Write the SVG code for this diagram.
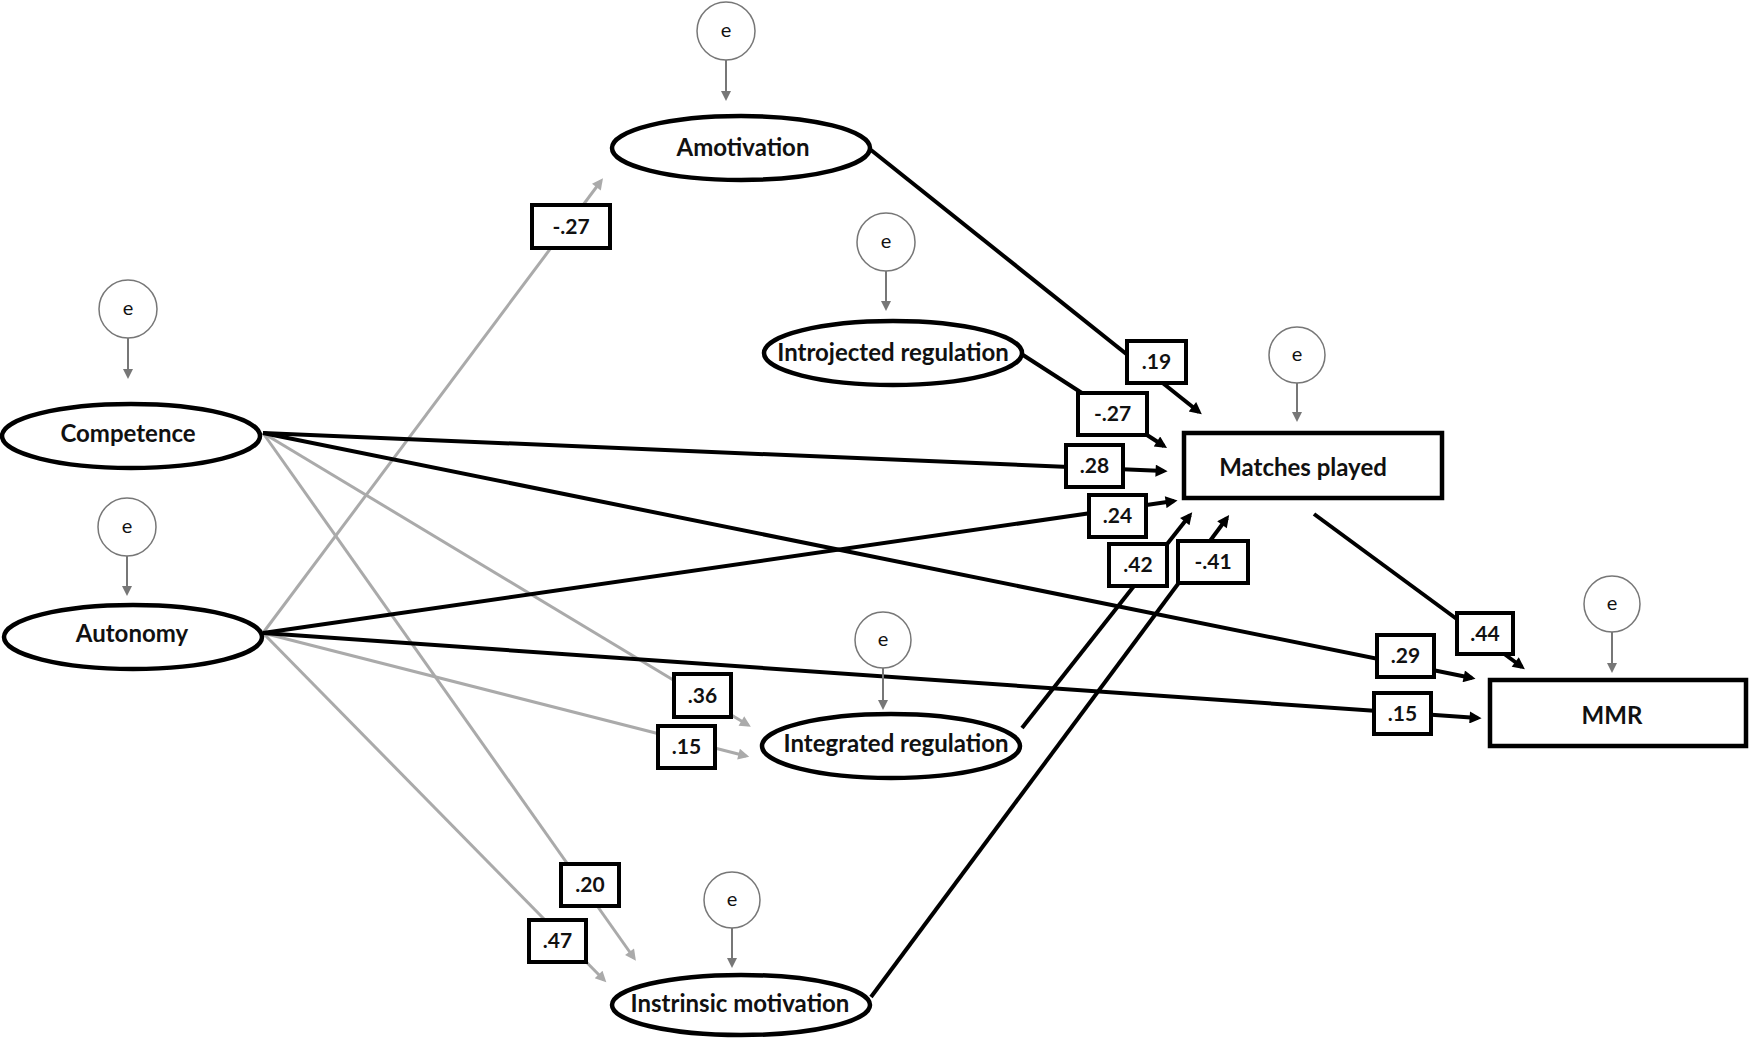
<svg xmlns="http://www.w3.org/2000/svg" width="1750" height="1040" viewBox="0 0 1750 1040">
<style>
  .bg{fill:#ffffff}
  .node{fill:#ffffff;stroke:#000000;stroke-width:4.5}
  .nlabel{font-family:"Lato","Liberation Sans",sans-serif;font-weight:bold;font-size:24px;fill:#111111;text-anchor:middle}
  .err{fill:#ffffff;stroke:#777777;stroke-width:1.5}
  .etext{font-family:"Lato","Liberation Sans",sans-serif;font-size:20px;fill:#111111;text-anchor:middle}
  .earrow{stroke:#777777;stroke-width:2;fill:none}
  .black{stroke:#000000;stroke-width:4;fill:none}
  .gray{stroke:#aaaaaa;stroke-width:3;fill:none}
  .lbox{fill:#ffffff;stroke:#000000;stroke-width:4}
  .ltext{font-family:"Lato","Liberation Sans",sans-serif;font-weight:bold;font-size:21px;fill:#111111;text-anchor:middle}
</style>
<defs>
  <marker id="ab" viewBox="0 0 10 10" refX="7" refY="5" markerWidth="15" markerHeight="12" markerUnits="userSpaceOnUse" orient="auto">
    <path d="M0,0 L10,5 L0,10 z" fill="#000000"/>
  </marker>
  <marker id="ag" viewBox="0 0 10 10" refX="7" refY="5" markerWidth="14" markerHeight="11" markerUnits="userSpaceOnUse" orient="auto">
    <path d="M0,0 L10,5 L0,10 z" fill="#aaaaaa"/>
  </marker>
  <marker id="ae" viewBox="0 0 10 10" refX="8" refY="5" markerWidth="11" markerHeight="10" markerUnits="userSpaceOnUse" orient="auto">
    <path d="M0,0 L10,5 L0,10 z" fill="#777777"/>
  </marker>
</defs>
<rect class="bg" x="0" y="0" width="1750" height="1040"/>

<g id="connectors">
  <line class="gray" x1="263" y1="633" x2="601" y2="181" marker-end="url(#ag)"/>
  <line class="gray" x1="263" y1="433" x2="748" y2="725" marker-end="url(#ag)"/>
  <line class="gray" x1="263" y1="633" x2="746" y2="756" marker-end="url(#ag)"/>
  <line class="gray" x1="263" y1="433" x2="634" y2="958" marker-end="url(#ag)"/>
  <line class="gray" x1="263" y1="633" x2="604" y2="980" marker-end="url(#ag)"/>
  <line class="black" x1="871" y1="150" x2="1199" y2="412" marker-end="url(#ab)"/>
  <line class="black" x1="1023" y1="355" x2="1164" y2="446" marker-end="url(#ab)"/>
  <line class="black" x1="263" y1="433" x2="1164" y2="471" marker-end="url(#ab)"/>
  <line class="black" x1="263" y1="633" x2="1174" y2="501" marker-end="url(#ab)"/>
  <line class="black" x1="1022" y1="728" x2="1190" y2="515" marker-end="url(#ab)"/>
  <line class="black" x1="871" y1="997" x2="1227" y2="518" marker-end="url(#ab)"/>
  <line class="black" x1="1314" y1="514" x2="1522" y2="667" marker-end="url(#ab)"/>
  <line class="black" x1="263" y1="433" x2="1472" y2="678" marker-end="url(#ab)"/>
  <line class="black" x1="263" y1="633" x2="1478" y2="718" marker-end="url(#ab)"/>
  <line class="earrow" x1="128" y1="338" x2="128" y2="377" marker-end="url(#ae)"/>
  <line class="earrow" x1="127" y1="556" x2="127" y2="594" marker-end="url(#ae)"/>
  <line class="earrow" x1="726" y1="60" x2="726" y2="99" marker-end="url(#ae)"/>
  <line class="earrow" x1="886" y1="271" x2="886" y2="309" marker-end="url(#ae)"/>
  <line class="earrow" x1="1297" y1="383" x2="1297" y2="420" marker-end="url(#ae)"/>
  <line class="earrow" x1="883" y1="668" x2="883" y2="708" marker-end="url(#ae)"/>
  <line class="earrow" x1="732" y1="928" x2="732" y2="966" marker-end="url(#ae)"/>
  <line class="earrow" x1="1612" y1="632" x2="1612" y2="671" marker-end="url(#ae)"/>
</g>

<g id="labels">
  <g id="l-aut-amot"><rect class="lbox" x="532" y="205" width="78" height="43"/><text class="ltext" x="571" y="234">-.27</text></g>
  <g id="l-amot-mp"><rect class="lbox" x="1127" y="341" width="59" height="42"/><text class="ltext" x="1156.5" y="369">.19</text></g>
  <g id="l-intro-mp"><rect class="lbox" x="1078" y="393" width="69" height="42"/><text class="ltext" x="1112.5" y="421">-.27</text></g>
  <g id="l-comp-mp"><rect class="lbox" x="1066" y="445" width="57" height="42"/><text class="ltext" x="1094.5" y="473">.28</text></g>
  <g id="l-aut-mp"><rect class="lbox" x="1089" y="495" width="57" height="42"/><text class="ltext" x="1117.5" y="523">.24</text></g>
  <g id="l-integ-mp"><rect class="lbox" x="1109" y="544" width="58" height="42"/><text class="ltext" x="1138" y="572">.42</text></g>
  <g id="l-intr-mp"><rect class="lbox" x="1178" y="541" width="70" height="42"/><text class="ltext" x="1213" y="569">-.41</text></g>
  <g id="l-mp-mmr"><rect class="lbox" x="1457" y="613" width="56" height="41"/><text class="ltext" x="1485" y="641">.44</text></g>
  <g id="l-comp-mmr"><rect class="lbox" x="1377" y="635" width="57" height="42"/><text class="ltext" x="1405.5" y="663">.29</text></g>
  <g id="l-aut-mmr"><rect class="lbox" x="1374" y="693" width="57" height="41"/><text class="ltext" x="1402.5" y="721">.15</text></g>
  <g id="l-comp-integ"><rect class="lbox" x="674" y="674" width="57" height="43"/><text class="ltext" x="702.5" y="703">.36</text></g>
  <g id="l-aut-integ"><rect class="lbox" x="658" y="726" width="57" height="42"/><text class="ltext" x="686.5" y="754">.15</text></g>
  <g id="l-comp-intr"><rect class="lbox" x="561" y="864" width="58" height="42"/><text class="ltext" x="590" y="892">.20</text></g>
  <g id="l-aut-intr"><rect class="lbox" x="529" y="920" width="57" height="42"/><text class="ltext" x="557.5" y="948">.47</text></g>
</g>

<g id="competence"><ellipse class="node" cx="131" cy="436" rx="129" ry="32"/><text class="nlabel" x="128" y="442">Competence</text></g>
<g id="autonomy"><ellipse class="node" cx="133" cy="637" rx="129" ry="32"/><text class="nlabel" x="132" y="642">Autonomy</text></g>
<g id="amotivation"><ellipse class="node" cx="741" cy="148" rx="129" ry="32"/><text class="nlabel" x="743" y="156">Amotivation</text></g>
<g id="introjected"><ellipse class="node" cx="893" cy="353" rx="129" ry="32"/><text class="nlabel" x="893" y="361">Introjected regulation</text></g>
<g id="integrated"><ellipse class="node" cx="891" cy="746" rx="129" ry="32"/><text class="nlabel" x="896" y="752">Integrated regulation</text></g>
<g id="intrinsic"><ellipse class="node" cx="741" cy="1005" rx="129" ry="30"/><text class="nlabel" x="740" y="1012">Instrinsic motivation</text></g>
<g id="matches"><rect class="node" x="1184" y="433" width="258" height="65"/><text class="nlabel" x="1303" y="476">Matches played</text></g>
<g id="mmr"><rect class="node" x="1490" y="680" width="256" height="66"/><text class="nlabel" x="1612" y="724">MMR</text></g>

<g id="e-competence"><circle class="err" cx="128" cy="309" r="29"/><text class="etext" x="128" y="315">e</text></g>
<g id="e-autonomy"><circle class="err" cx="127" cy="527" r="29"/><text class="etext" x="127" y="533">e</text></g>
<g id="e-amotivation"><circle class="err" cx="726" cy="31" r="29"/><text class="etext" x="726" y="37">e</text></g>
<g id="e-introjected"><circle class="err" cx="886" cy="242" r="29"/><text class="etext" x="886" y="248">e</text></g>
<g id="e-matches"><circle class="err" cx="1297" cy="355" r="28"/><text class="etext" x="1297" y="361">e</text></g>
<g id="e-integrated"><circle class="err" cx="883" cy="640" r="28"/><text class="etext" x="883" y="646">e</text></g>
<g id="e-intrinsic"><circle class="err" cx="732" cy="900" r="28"/><text class="etext" x="732" y="906">e</text></g>
<g id="e-mmr"><circle class="err" cx="1612" cy="604" r="28"/><text class="etext" x="1612" y="610">e</text></g>
</svg>
